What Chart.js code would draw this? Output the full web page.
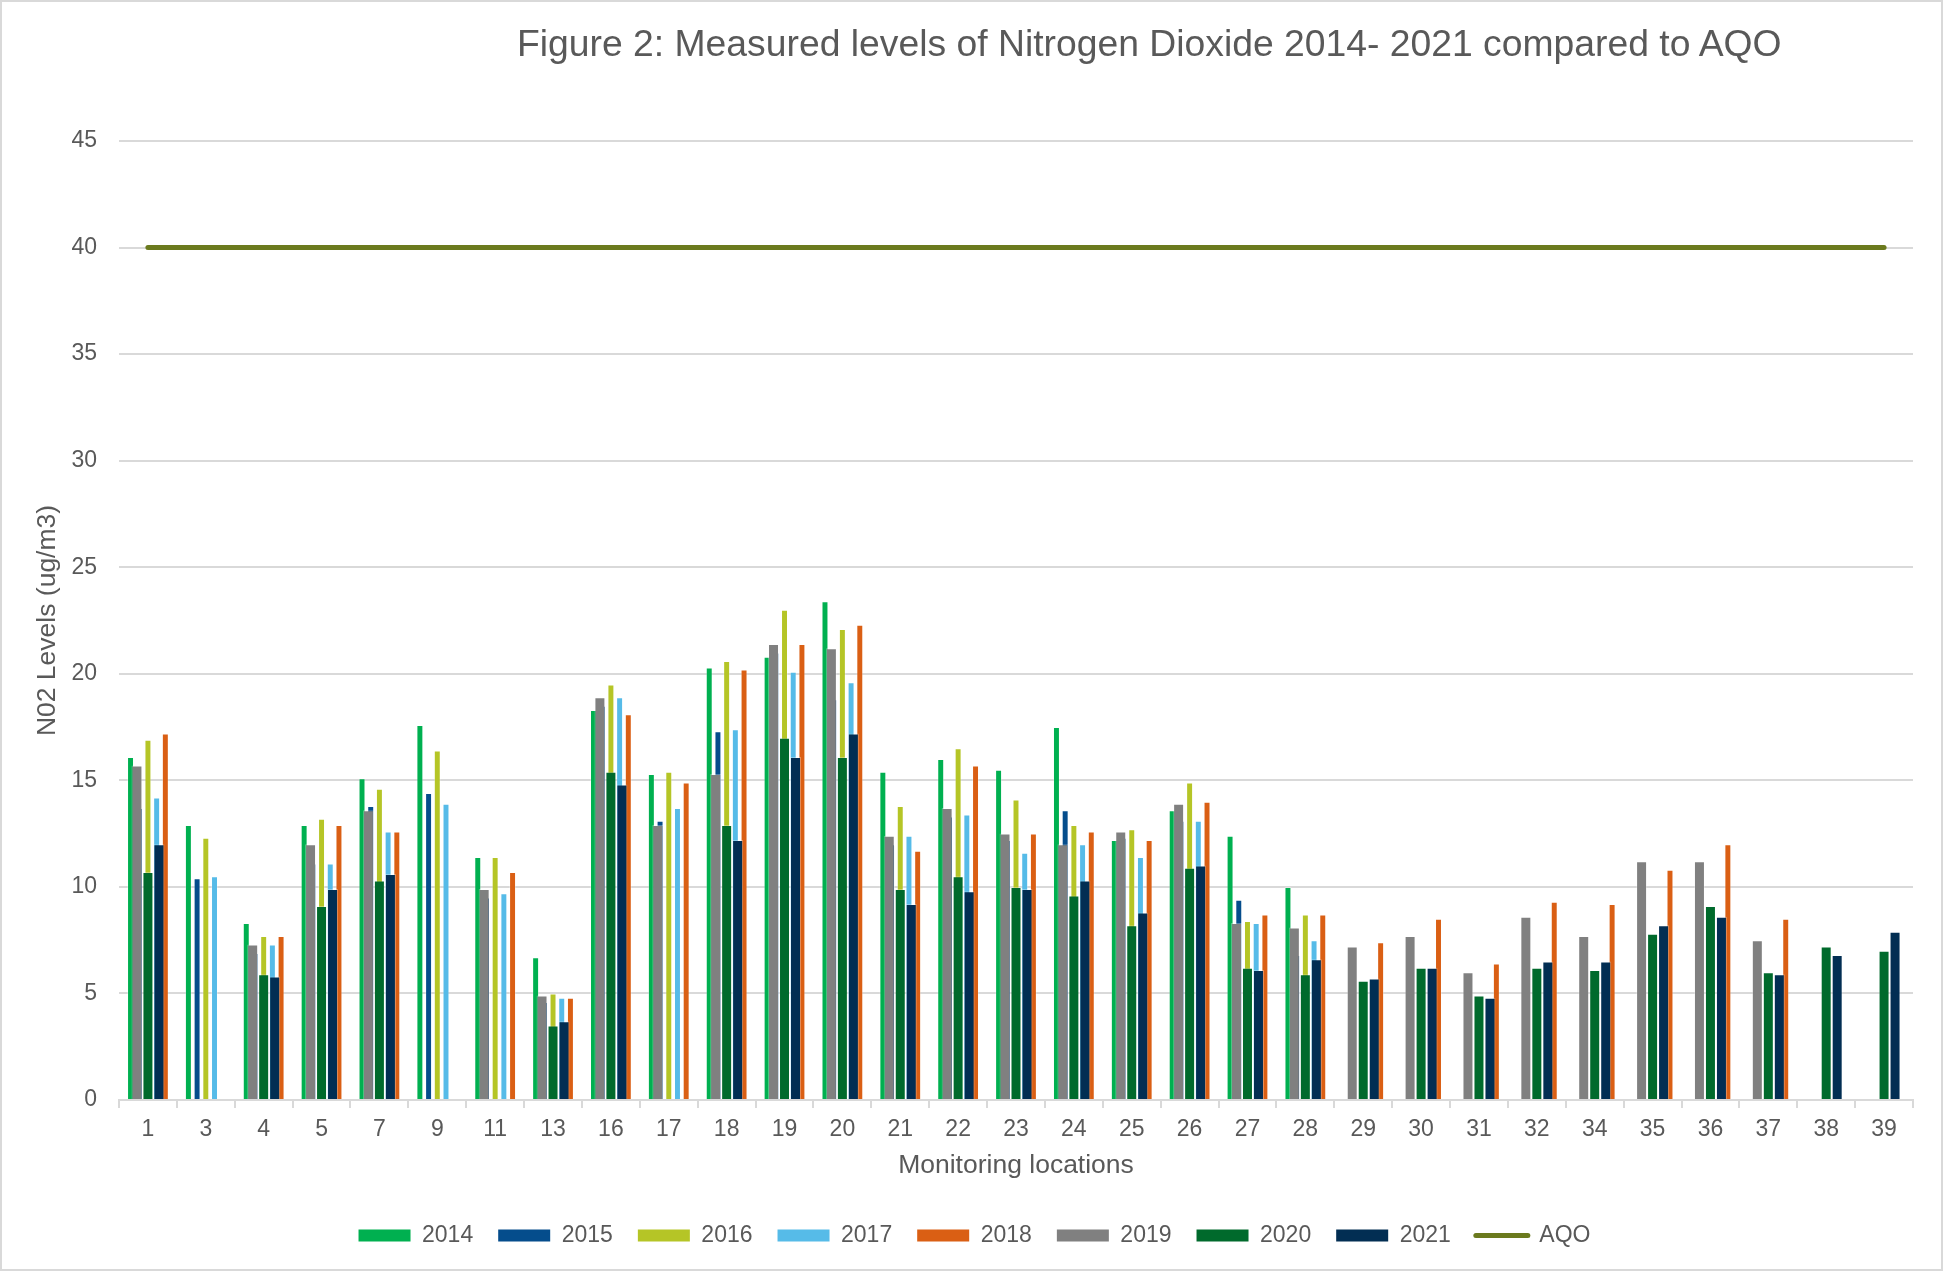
<!DOCTYPE html>
<html>
<head>
<meta charset="utf-8">
<title>Figure 2: Nitrogen Dioxide 2014-2021</title>
<script src="https://cdn.jsdelivr.net/npm/chart.js@4.4.0/dist/chart.umd.min.js"></script>
<style>
  html, body { margin: 0; padding: 0; background: #fff; }
  #frame { position: relative; width: 1943px; height: 1271px; box-sizing: border-box; border: 2px solid #d9d9d9; background: #fff; overflow: hidden; }
  #wrap { position: absolute; left: 0; top: 0; width: 1939px; height: 1267px; }
  #title { position: absolute; left: 515px; top: 23px; font-family: "Liberation Sans", Arial, sans-serif; font-size: 37.3px; line-height: 37px; color: #595959; white-space: nowrap; }
</style>
</head>
<body>
<div id="frame">
  <div id="wrap"><canvas id="no2"></canvas></div>
  <div id="title">Figure 2: Measured levels of Nitrogen Dioxide 2014- 2021 compared to AQO</div>
</div>
<script>
// monitoring locations
const locations = ['1', '3', '4', '5', '7', '9', '11', '13', '16', '17', '18', '19', '20', '21', '22', '23',
    '24', '25', '26', '27', '28', '29', '30', '31', '32', '34', '35', '36', '37', '38', '39'];

// annual means (ug/m3)
const y2014 = [16.1, 12.9, 8.3, 12.9, 15.1, 17.6, 11.4, 6.7, 18.3, 15.3, 20.3, 20.8, 23.4, 15.4, 16.0, 15.5,
    17.5, 12.2, 13.6, 12.4, 10.0, null, null, null, null, null, null, null, null, null, null];
const y2015 = [13.7, 10.4, 6.9, 11.1, 13.8, 14.4, 9.5, 4.6, 18.5, 13.1, 17.3, 21.0, 18.8, 12.0, 13.3, 12.2,
    13.6, 12.3, 13.1, 9.4, 6.8, null, null, null, null, null, null, null, null, null, null];
const y2016 = [16.9, 12.3, 7.7, 13.2, 14.6, 16.4, 11.4, 5.0, 19.5, 15.4, 20.6, 23.0, 22.1, 13.8, 16.5, 14.1,
    12.9, 12.7, 14.9, 8.4, 8.7, null, null, null, null, null, null, null, null, null, null];
const y2017 = [14.2, 10.5, 7.3, 11.1, 12.6, 13.9, 9.7, 4.8, 18.9, 13.7, 17.4, 20.1, 19.6, 12.4, 13.4, 11.6,
    12.0, 11.4, 13.1, 8.3, 7.5, null, null, null, null, null, null, null, null, null, null];
const y2018 = [17.2, null, 7.7, 12.9, 12.6, null, 10.7, 4.8, 18.1, 14.9, 20.2, 21.4, 22.3, 11.7, 15.7, 12.5,
    12.6, 12.2, 14.0, 8.7, 8.7, 7.4, 8.5, 6.4, 9.3, 9.2, 10.8, 12.0, 8.5, null, null];
const y2019 = [15.7, null, 7.3, 12.0, 13.6, null, 9.9, 4.9, 18.9, 12.9, 15.3, 21.4, 21.2, 12.4, 13.7, 12.5,
    12.0, 12.6, 13.9, 8.3, 8.1, 7.2, 7.7, 6.0, 8.6, 7.7, 11.2, 11.2, 7.5, null, null];
const y2020 = [10.7, null, 5.9, 9.1, 10.3, null, null, 3.5, 15.4, null, 12.9, 17.0, 16.1, 9.9, 10.5, 10.0,
    9.6, 8.2, 10.9, 6.2, 5.9, 5.6, 6.2, 4.9, 6.2, 6.1, 7.8, 9.1, 6.0, 7.2, 7.0];
const y2021 = [12.0, null, 5.8, 9.9, 10.6, null, null, 3.7, 14.8, null, 12.2, 16.1, 17.2, 9.2, 9.8, 9.9,
    10.3, 8.8, 11.0, 6.1, 6.6, 5.7, 6.2, 4.8, 6.5, 6.5, 8.2, 8.6, 5.9, 6.8, 7.9];
const aqo = [40, 40, 40, 40, 40, 40, 40, 40, 40, 40, 40, 40, 40, 40, 40, 40,
    40, 40, 40, 40, 40, 40, 40, 40, 40, 40, 40, 40, 40, 40, 40];

const yTicks = [0, 5, 10, 15, 20, 25, 30, 35, 40, 45];

const fontFamily = '"Liberation Sans", Arial, sans-serif';
const textColor = '#595959';
const gridColor = '#d9d9d9';

// Chart.js 4.5 puts bars that sit on different x axes side by side.
// Here each axis keeps its own group so the two groups overlap like the Excel original.
const barProto = Chart.BarController.prototype;
if (typeof barProto._getAxis === 'function') {
    barProto._getAxis = function () { return [this._cachedMeta.xAxisID]; };
}
if (typeof barProto._getAxisCount === 'function') {
    barProto._getAxisCount = function () { return 1; };
}

// 2014-2018 are narrow bars, 2019-2021 wider bars drawn over them
const narrow = { xAxisID: 'x', categoryPercentage: 0.752, barPercentage: 0.8, order: 2 };
const wide = { xAxisID: 'x2', categoryPercentage: 0.57, barPercentage: 1.0, order: 1 };

function bars(label, data, color, group) {
    return Object.assign({
        type: 'bar',
        label: label,
        data: data,
        backgroundColor: color,
        borderColor: 'rgba(255,255,255,0.3)',
        borderWidth: 1,
    }, group);
}

const ctx = document.getElementById('no2');

const no2Chart = new Chart(ctx, {
    type: 'bar',
    data: {
        labels: locations,
        datasets: [
            bars('2014', y2014, '#00b050', narrow),
            bars('2015', y2015, '#054d8c', narrow),
            bars('2016', y2016, '#b5c526', narrow),
            bars('2017', y2017, '#56bbe8', narrow),
            bars('2018', y2018, '#da5f14', narrow),
            bars('2019', y2019, '#808080', wide),
            bars('2020', y2020, '#006a2c', wide),
            bars('2021', y2021, '#022e53', wide),
            {
                type: 'line',
                label: 'AQO',
                data: aqo,
                xAxisID: 'x',
                borderColor: '#6b7a1e',
                backgroundColor: '#6b7a1e',
                borderWidth: 5,
                borderCapStyle: 'round',
                pointRadius: 0,
                order: 0,
            },
        ],
    },
    options: {
        responsive: true,
        maintainAspectRatio: false,
        animation: false,
        layout: {
            padding: { top: 139, right: 0, left: 6, bottom: 12 },
        },
        plugins: {
            title: { display: false },
            tooltip: { enabled: false },
            legend: {
                position: 'bottom',
                labels: {
                    usePointStyle: true,
                    pointStyleWidth: 52,
                    boxHeight: 12,
                    padding: 25,
                    color: textColor,
                    font: { family: fontFamily, size: 23 },
                    sort: (a, b) => a.datasetIndex - b.datasetIndex,
                    generateLabels(chart) {
                        const items = Chart.defaults.plugins.legend.labels.generateLabels(chart);
                        items.forEach((item) => {
                            const ds = chart.data.datasets[item.datasetIndex];
                            if (ds.type === 'line') {
                                item.pointStyle = 'line';
                                item.lineWidth = 5;
                                item.strokeStyle = ds.borderColor;
                                item.lineCap = 'round';
                            } else {
                                item.pointStyle = 'rect';
                                item.lineWidth = 0;
                            }
                        });
                        return items;
                    },
                },
            },
        },
        scales: {
            x: {
                type: 'category',
                offset: true,
                grid: {
                    offset: true,
                    drawOnChartArea: false,
                    drawTicks: true,
                    tickLength: 8,
                    color: gridColor,
                    lineWidth: 2,
                },
                border: { display: true, color: gridColor, width: 2 },
                ticks: {
                    color: textColor,
                    font: { family: fontFamily, size: 23 },
                    padding: 8,
                    autoSkip: false,
                    maxRotation: 0,
                },
                title: {
                    display: true,
                    text: 'Monitoring locations',
                    color: textColor,
                    font: { family: fontFamily, size: 26.5 },
                    padding: { top: 0, bottom: 17 },
                },
                afterFit(scale) { scale.height = 99; },
            },
            x2: {
                type: 'category',
                display: false,
                offset: true,
                grid: { offset: true },
            },
            y: {
                type: 'linear',
                min: 0,
                max: 45,
                afterBuildTicks(scale) { scale.ticks = yTicks.map((v) => ({ value: v })); },
                ticks: {
                    color: textColor,
                    font: { family: fontFamily, size: 23 },
                    padding: 22,
                },
                grid: { color: gridColor, lineWidth: 2, drawTicks: false },
                border: { display: false },
                title: {
                    display: true,
                    text: 'N02 Levels (ug/m3)',
                    color: textColor,
                    font: { family: fontFamily, size: 26.5 },
                    padding: { top: 24, bottom: 0 },
                },
                afterFit(scale) { scale.width = 111; },
            },
            // empty right gutter so the plot ends where the original does
            yRight: {
                type: 'linear',
                position: 'right',
                grid: { display: false, drawTicks: false },
                border: { display: false },
                ticks: { display: false },
                afterFit(scale) { scale.width = 28; },
            },
        },
    },
});
</script>
</body>
</html>
